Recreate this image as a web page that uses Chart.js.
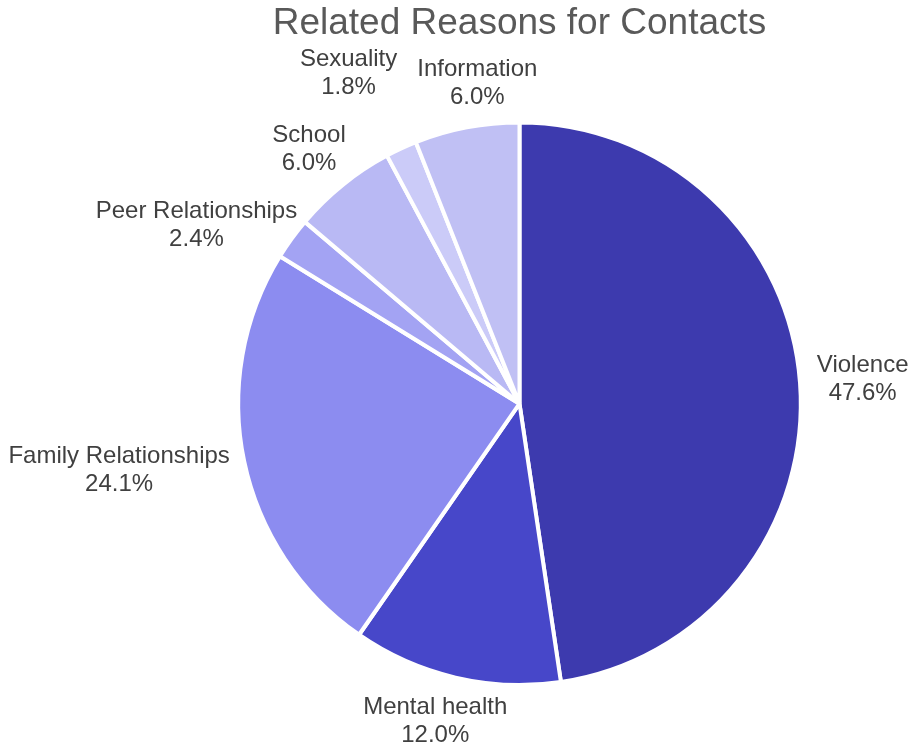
<!DOCTYPE html>
<html>
<head>
<meta charset="utf-8">
<script src="https://cdn.jsdelivr.net/npm/chart.js@4"></script>
<style>
  body { margin: 0; background: #fff; }
  #wrap { width: 918px; height: 742px; }
</style>
</head>
<body>
<div id="wrap"><canvas id="reasons" width="918" height="742"></canvas></div>
<script>
const reasons = ['Violence', 'Mental health', 'Family Relationships', 'Peer Relationships', 'School', 'Sexuality', 'Information'];
const shares = [47.6, 12.0, 24.1, 2.4, 6.0, 1.8, 6.0];
const sliceColors = ['#3d3aae', '#4747c9', '#8c8cf0', '#a3a3f3', '#b9b9f4', '#cbcbf8', '#c0c0f4'];

const FONT = "'Liberation Sans', Arial, sans-serif";

// labels sit just outside each slice, two lines: name and percentage
const outsideLabels = {
    id: 'outsideLabels',
    afterDatasetsDraw(chart) {
        const ctx = chart.ctx;
        const meta = chart.getDatasetMeta(0);
        const size = 24, lh = 28, gap = 17, margin = 20;
        ctx.save();
        ctx.font = size + 'px ' + FONT;
        ctx.fillStyle = '#404040';
        ctx.textAlign = 'center';
        ctx.textBaseline = 'middle';

        const boxes = meta.data.map((arc, i) => {
            const p = arc.getProps(['x', 'y', 'startAngle', 'endAngle', 'outerRadius'], true);
            const mid = (p.startAngle + p.endAngle) / 2;
            const c = Math.cos(mid), s = Math.sin(mid);
            const lines = [reasons[i], shares[i].toFixed(1) + '%'];
            const w = Math.max(...lines.map(t => ctx.measureText(t).width));
            const h = lh * lines.length;
            const ax = p.x + c * (p.outerRadius + gap);
            const ay = p.y + s * (p.outerRadius + gap);
            return {lines, w, h, share: shares[i], cx: ax + c * w / 2, cy: ay + s * h / 2};
        });

        // separate colliding labels along the axis that needs the least travel:
        // sideways both give way, vertically the smaller slice's label moves
        for (let k = 0; k < 10; k++) {
            for (let i = 0; i < boxes.length; i++) {
                for (let j = i + 1; j < boxes.length; j++) {
                    const a = boxes[i], b = boxes[j];
                    const ox = (a.w + b.w) / 2 + margin - Math.abs(a.cx - b.cx);
                    const oy = (a.h + b.h) / 2 + margin - Math.abs(a.cy - b.cy);
                    if (ox <= margin || oy <= 0) continue;
                    if (ox < oy) {
                        const dir = a.cx < b.cx ? -1 : 1;
                        a.cx += dir * ox / 2;
                        b.cx -= dir * ox / 2;
                    } else {
                        const small = a.share <= b.share ? a : b;
                        const other = small === a ? b : a;
                        small.cy += (small.cy < other.cy ? -1 : 1) * oy;
                    }
                }
            }
        }

        boxes.forEach(b => {
            b.lines.forEach((t, n) => {
                ctx.fillText(t, b.cx, b.cy - b.h / 2 + lh / 2 + n * lh);
            });
        });
        ctx.restore();
    }
};

new Chart(document.getElementById('reasons'), {
    type: 'pie',
    data: {
        labels: reasons,
        datasets: [{
            data: shares,
            backgroundColor: sliceColors,
            borderColor: '#ffffff',
            borderWidth: 4
        }]
    },
    options: {
        responsive: false,
        animation: false,
        layout: {
            padding: {left: 236, right: 115, top: 0, bottom: 55}
        },
        plugins: {
            legend: {display: false},
            tooltip: {enabled: false},
            title: {
                display: true,
                text: 'Related Reasons for Contacts',
                color: '#595959',
                font: {family: FONT, size: 37, weight: 'normal', lineHeight: 1.2},
                padding: {top: 2, bottom: 74}
            }
        }
    },
    plugins: [outsideLabels]
});
</script>
</body>
</html>
